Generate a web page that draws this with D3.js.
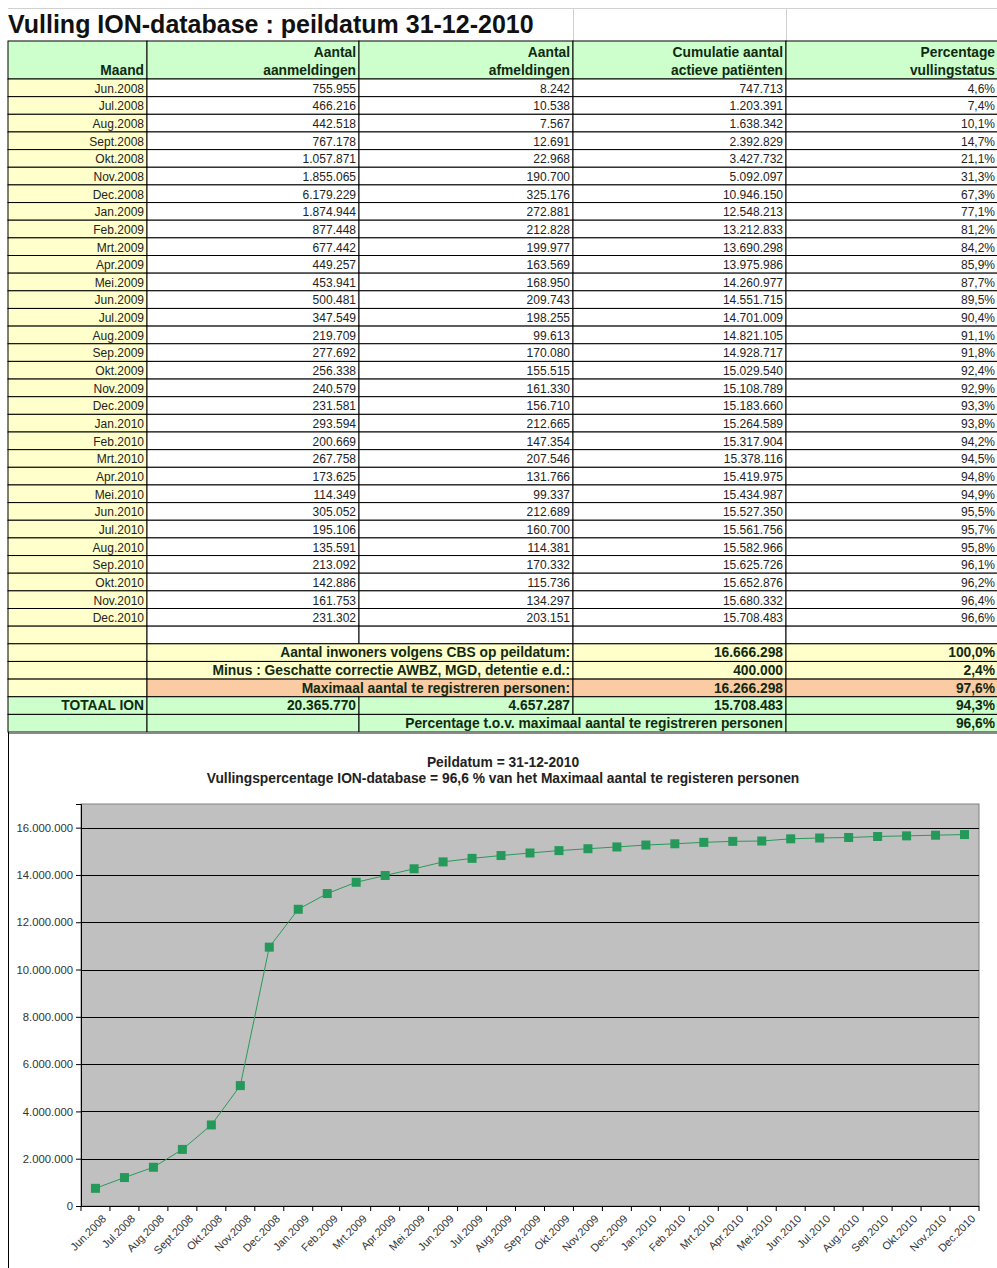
<!DOCTYPE html>
<head>
<meta charset="utf-8">
<script src="https://d3js.org/d3.v7.min.js"></script>
<style>
  body { margin: 0; background: #fff; }
  svg text { font-family: Arial, "Liberation Sans", sans-serif; }
</style>
</head>
<body>
<script>
// table + chart data
var maanden = ["Jun.2008","Jul.2008","Aug.2008","Sept.2008","Okt.2008","Nov.2008","Dec.2008",
  "Jan.2009","Feb.2009","Mrt.2009","Apr.2009","Mei.2009","Jun.2009","Jul.2009","Aug.2009","Sep.2009",
  "Okt.2009","Nov.2009","Dec.2009","Jan.2010","Feb.2010","Mrt.2010","Apr.2010","Mei.2010","Jun.2010",
  "Jul.2010","Aug.2010","Sep.2010","Okt.2010","Nov.2010","Dec.2010"];
var aanmeldingen = [755955,466216,442518,767178,1057871,1855065,6179229,1874944,877448,677442,449257,
  453941,500481,347549,219709,277692,256338,240579,231581,293594,200669,267758,173625,114349,305052,
  195106,135591,213092,142886,161753,231302];
var afmeldingen = [8242,10538,7567,12691,22968,190700,325176,272881,212828,199977,163569,168950,209743,
  198255,99613,170080,155515,161330,156710,212665,147354,207546,131766,99337,212689,160700,114381,
  170332,115736,134297,203151];
var cumulatie = [747713,1203391,1638342,2392829,3427732,5092097,10946150,12548213,13212833,13690298,
  13975986,14260977,14551715,14701009,14821105,14928717,15029540,15108789,15183660,15264589,15317904,
  15378116,15419975,15434987,15527350,15561756,15582966,15625726,15652876,15680332,15708483];
var percentage = ["4,6%","7,4%","10,1%","14,7%","21,1%","31,3%","67,3%","77,1%","81,2%","84,2%","85,9%",
  "87,7%","89,5%","90,4%","91,1%","91,8%","92,4%","92,9%","93,3%","93,8%","94,2%","94,5%","94,8%",
  "94,9%","95,5%","95,7%","95,8%","96,1%","96,2%","96,4%","96,6%"];
var yTicks = [0,2000000,4000000,6000000,8000000,10000000,12000000,14000000,16000000];

var nl = d3.formatLocale({decimal: ",", thousands: ".", grouping: [3], currency: ["", ""]});
var fmt = nl.format(",d");

var W = 997, H = 1268;
var svg = d3.select("body").append("svg").attr("width", W).attr("height", H);

var GREEN = "#ccffcc", YELLOW = "#ffffcc", ORANGE = "#fbcba4";
var cols = [8, 147, 359, 573, 786, 998];
var rowH = 17.65, headTop = 41, dataTop = 79;
var BOLD_SIZE = 13.8;

// light spreadsheet grid in the title row
svg.append("line").attr("x1", 8).attr("x2", W).attr("y1", 8.5).attr("y2", 8.5).attr("stroke", "#d0d0d0");
[573, 786].forEach(function(x) {
  svg.append("line").attr("x1", x + .5).attr("x2", x + .5).attr("y1", 8).attr("y2", headTop).attr("stroke", "#d0d0d0");
});
svg.append("text").attr("x", 8).attr("y", 33).attr("font-size", 25).attr("font-weight", "bold")
  .attr("fill", "#111").text("Vulling ION-database : peildatum 31-12-2010");

function cell(c0, c1, y, h, fill, txt, bold, color) {
  svg.append("rect").attr("x", cols[c0]).attr("y", y).attr("width", cols[c1] - cols[c0]).attr("height", h)
    .attr("fill", fill).attr("stroke", "#000").attr("stroke-width", 1);
  if (txt != null) {
    svg.append("text").attr("x", cols[c1] - 3).attr("y", y + h - 4).attr("text-anchor", "end")
      .attr("font-size", bold ? BOLD_SIZE : 12).attr("font-weight", bold ? "bold" : "normal")
      .attr("fill", color || "#222").text(txt);
  }
}

// header
var head1 = [null, "Aantal", "Aantal", "Cumulatie aantal", "Percentage"];
var head2 = ["Maand", "aanmeldingen", "afmeldingen", "actieve patiënten", "vullingstatus"];
head1.forEach(function(t, i) { cell(i, i + 1, headTop, dataTop - headTop, GREEN, null); });
head1.forEach(function(t, i) {
  if (t) svg.append("text").attr("x", cols[i + 1] - 3).attr("y", headTop + 16).attr("text-anchor", "end")
    .attr("font-size", BOLD_SIZE).attr("font-weight", "bold").attr("fill", "#102a10").text(t);
  svg.append("text").attr("x", cols[i + 1] - 3).attr("y", headTop + 34).attr("text-anchor", "end")
    .attr("font-size", BOLD_SIZE).attr("font-weight", "bold").attr("fill", "#102a10").text(head2[i]);
});

// data rows
maanden.forEach(function(m, i) {
  var y = dataTop + i * rowH;
  cell(0, 1, y, rowH, YELLOW, m);
  cell(1, 2, y, rowH, "#fff", fmt(aanmeldingen[i]));
  cell(2, 3, y, rowH, "#fff", fmt(afmeldingen[i]));
  cell(3, 4, y, rowH, "#fff", fmt(cumulatie[i]));
  cell(4, 5, y, rowH, "#fff", percentage[i]);
});

// summary rows
var y0 = dataTop + maanden.length * rowH;
cell(0, 1, y0, rowH, YELLOW, null); cell(1, 2, y0, rowH, "#fff", null); cell(2, 3, y0, rowH, "#fff", null);
cell(3, 4, y0, rowH, "#fff", null); cell(4, 5, y0, rowH, "#fff", null);
var y1 = y0 + rowH, dk = "#102a10";
cell(0, 1, y1, rowH, YELLOW, null); cell(1, 3, y1, rowH, YELLOW, "Aantal inwoners volgens CBS op peildatum:", true, dk);
cell(3, 4, y1, rowH, YELLOW, "16.666.298", true, dk); cell(4, 5, y1, rowH, YELLOW, "100,0%", true, dk);
var y2 = y1 + rowH;
cell(0, 1, y2, rowH, YELLOW, null); cell(1, 3, y2, rowH, YELLOW, "Minus : Geschatte correctie AWBZ, MGD, detentie e.d.:", true, dk);
cell(3, 4, y2, rowH, YELLOW, "400.000", true, dk); cell(4, 5, y2, rowH, YELLOW, "2,4%", true, dk);
var y3 = y2 + rowH;
cell(0, 1, y3, rowH, YELLOW, null); cell(1, 3, y3, rowH, ORANGE, "Maximaal aantal te registreren personen:", true, dk);
cell(3, 4, y3, rowH, ORANGE, "16.266.298", true, dk); cell(4, 5, y3, rowH, ORANGE, "97,6%", true, dk);
var y4 = y3 + rowH;
cell(0, 1, y4, rowH, GREEN, "TOTAAL ION", true, dk);
cell(1, 2, y4, rowH, GREEN, fmt(d3.sum(aanmeldingen)), true, dk);
cell(2, 3, y4, rowH, GREEN, fmt(d3.sum(afmeldingen)), true, dk);
cell(3, 4, y4, rowH, GREEN, fmt(cumulatie[cumulatie.length - 1]), true, dk);
cell(4, 5, y4, rowH, GREEN, "94,3%", true, dk);
var y5 = y4 + rowH;
cell(0, 1, y5, rowH, GREEN, null); cell(1, 2, y5, rowH, GREEN, null);
cell(2, 4, y5, rowH, GREEN, "Percentage t.o.v. maximaal aantal te registreren personen", true, dk);
cell(4, 5, y5, rowH, GREEN, "96,6%", true, dk);
var tableBottom = y5 + rowH;
svg.append("line").attr("x1", 8).attr("x2", W).attr("y1", tableBottom + 1).attr("y2", tableBottom + 1)
  .attr("stroke", "#888").attr("stroke-width", 2);

// chart frame
svg.append("line").attr("x1", 8.5).attr("x2", 8.5).attr("y1", tableBottom).attr("y2", H).attr("stroke", "#000");

svg.append("text").attr("x", 503).attr("y", 767).attr("text-anchor", "middle").attr("font-size", 13.8)
  .attr("font-weight", "bold").attr("fill", "#222").text("Peildatum = 31-12-2010");
svg.append("text").attr("x", 503).attr("y", 783).attr("text-anchor", "middle").attr("font-size", 13.8)
  .attr("font-weight", "bold").attr("fill", "#222")
  .text("Vullingspercentage ION-database = 96,6 % van het Maximaal aantal te registeren personen");

var pl = 81, pr = 979, pt = 804, pb = 1206;
var x = d3.scaleBand().domain(maanden).range([pl, pr]);
var y = d3.scaleLinear().domain([0, 17000000]).range([pb, pt]);

svg.append("rect").attr("x", pl).attr("y", pt).attr("width", pr - pl).attr("height", pb - pt)
  .attr("fill", "#c0c0c0").attr("stroke", "#808080");

svg.append("g").selectAll("line").data(yTicks.slice(1)).join("line")
  .attr("x1", pl).attr("x2", pr).attr("y1", function(d) { return Math.round(y(d)) + .5; })
  .attr("y2", function(d) { return Math.round(y(d)) + .5; }).attr("stroke", "#000");

var yAxis = svg.append("g").attr("transform", "translate(" + pl + ",0)")
  .call(d3.axisLeft(y).tickValues(yTicks).tickFormat(fmt).tickSize(5).tickPadding(3));
yAxis.select(".domain").attr("stroke", "#000");
yAxis.selectAll("text").attr("font-size", 11.3).attr("fill", "#333")
  .attr("font-family", "Arial, 'Liberation Sans', sans-serif");

// x axis: ticks at band edges
var xg = svg.append("g");
xg.append("line").attr("x1", pl).attr("x2", pr).attr("y1", pb + .5).attr("y2", pb + .5).attr("stroke", "#000");
xg.selectAll("line.t").data(maanden.concat(["_end"])).join("line").attr("class", "t")
  .attr("x1", function(d, i) { return i < maanden.length ? x(d) : pr; })
  .attr("x2", function(d, i) { return i < maanden.length ? x(d) : pr; })
  .attr("y1", pb).attr("y2", pb + 5).attr("stroke", "#000");
xg.selectAll("text").data(maanden).join("text")
  .attr("transform", function(d) { return "translate(" + (x(d) + x.bandwidth() / 2 + 6) + "," + (pb + 8) + ") rotate(-45)"; })
  .attr("text-anchor", "end").attr("dy", "0.7em").attr("font-size", 11).attr("fill", "#333").text(function(d) { return d; });

// series
var cx = function(d, i) { return x(maanden[i]) + x.bandwidth() / 2; };
svg.append("path").datum(cumulatie)
  .attr("d", d3.line().x(cx).y(function(d) { return y(d); }))
  .attr("fill", "none").attr("stroke", "#2a9a5a").attr("stroke-width", 1);
svg.append("g").selectAll("rect").data(cumulatie).join("rect")
  .attr("x", function(d, i) { return cx(d, i) - 4.5; }).attr("y", function(d) { return y(d) - 4.5; })
  .attr("width", 9).attr("height", 9).attr("fill", "#25995a");
</script>
</body>
